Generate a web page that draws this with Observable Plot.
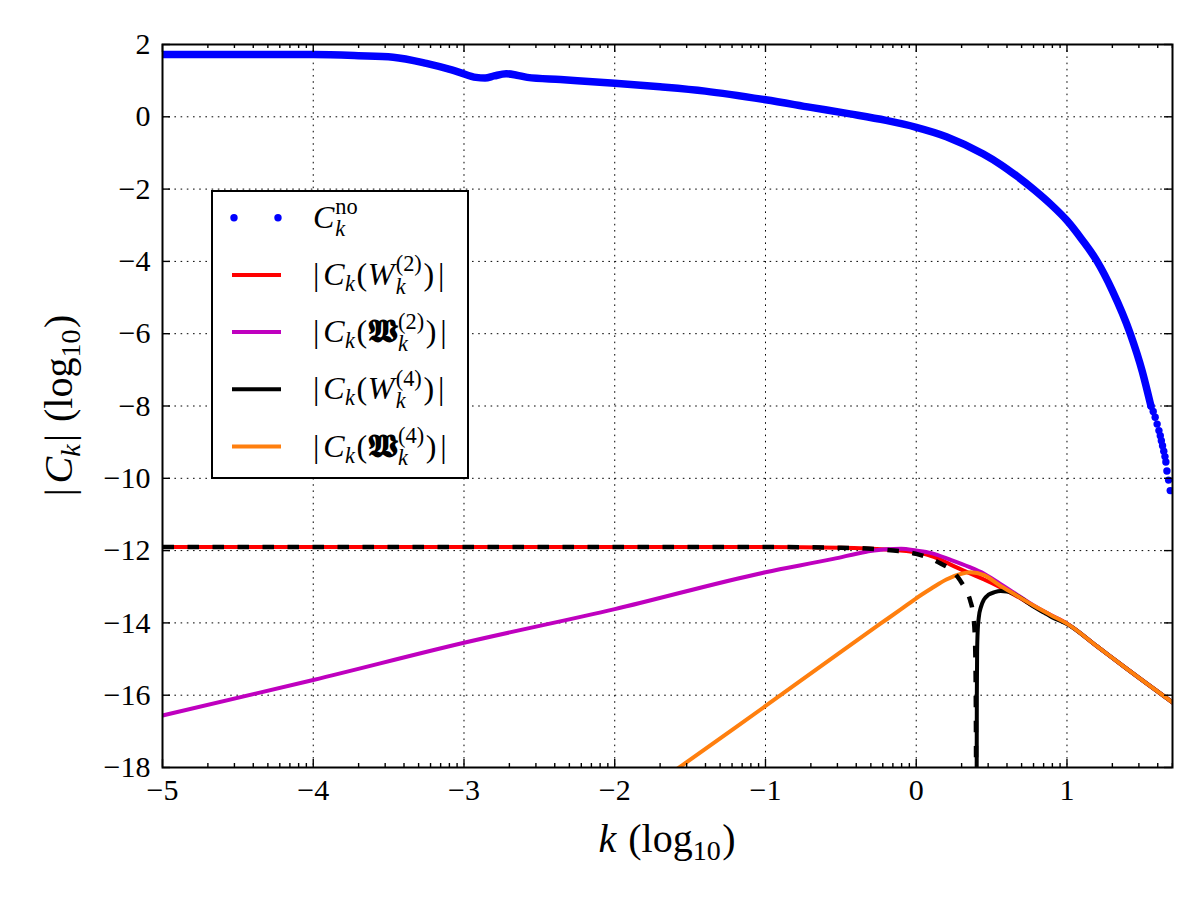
<!DOCTYPE html>
<html><head><meta charset="utf-8">
<script src="https://cdn.jsdelivr.net/npm/d3@7"></script>
<script src="https://cdn.jsdelivr.net/npm/@observablehq/plot@0.6"></script>
<style>
html,body{margin:0;padding:0;background:#fff;}
#chart{position:relative;width:1200px;height:900px;}
</style></head><body><div id="chart"></div>
<script>
// ---------- data ----------
const xTickValues = [-5, -4, -3, -2, -1, 0, 1];
const yTickValues = [-18, -16, -14, -12, -10, -8, -6, -4, -2, 0, 2];
const xGridValues = [-4, -3, -2, -1, 0, 1];
const yGridValues = [-16, -14, -12, -10, -8, -6, -4, -2, 0];
const minorMultipliers = [2, 3, 4, 5, 6, 7, 8, 9];

// C_k^no (dense dotted series, drawn as a thick trace) and its sparse tail
const noK = [-5, -4.5, -4, -3.7, -3.47, -3.25, -3.1, -3.03, -2.92, -2.86, -2.8, -2.72, -2.65, -2.58, -2.36, -2.0, -1.7, -1.4, -1.0, -0.7, -0.44, -0.2, 0, 0.2, 0.445, 0.56, 0.667, 0.777, 0.9, 1.0, 1.1, 1.2, 1.3, 1.42, 1.5, 1.557];
const noC = [1.72, 1.72, 1.72, 1.69, 1.65, 1.48, 1.32, 1.23, 1.09, 1.07, 1.13, 1.19, 1.15, 1.09, 1.03, 0.93, 0.83, 0.71, 0.47, 0.26, 0.08, -0.1, -0.29, -0.55, -1.03, -1.32, -1.64, -2.0, -2.45, -2.87, -3.4, -4.0, -4.8, -6.0, -7.05, -8.0];
const noTailK = [1.557, 1.572, 1.585, 1.598, 1.61, 1.619, 1.626, 1.634, 1.642, 1.65, 1.656, 1.663, 1.674, 1.685];
const noTailC = [-8.0, -8.15, -8.31, -8.5, -8.68, -8.82, -8.96, -9.1, -9.25, -9.4, -9.55, -9.8, -10.05, -10.34];

// |C_k(W_k^(2))|
const w2K = [-5, -1, -0.5, -0.2, 0, 0.1, 0.225, 0.35, 0.45, 0.55, 0.65, 0.778, 0.9, 1.0, 1.2, 1.4, 1.7];
const w2C = [-11.9, -11.9, -11.92, -11.97, -12.05, -12.15, -12.38, -12.62, -12.8, -13.0, -13.22, -13.53, -13.8, -14.02, -14.65, -15.28, -16.2];
// |C_k(Fraktur W_k^(2))|
const fw2K = [-5, -4, -3, -2, -1, -0.55, -0.33, -0.2, -0.1, 0, 0.1, 0.225, 0.35, 0.45, 0.55, 0.65, 0.778, 0.9, 1.0, 1.2, 1.4, 1.7];
const fw2C = [-16.56, -15.58, -14.55, -13.62, -12.6, -12.23, -12.03, -11.96, -11.95, -12.0, -12.07, -12.25, -12.45, -12.64, -12.9, -13.17, -13.52, -13.8, -14.02, -14.65, -15.28, -16.2];
// |C_k(W_k^(4))| : solid branch and dashed branch
const w4K = [0.401, 0.402, 0.404, 0.408, 0.415, 0.43, 0.45, 0.48, 0.52, 0.56, 0.6, 0.667, 0.72, 0.778, 0.85, 0.9, 1.0, 1.2, 1.4, 1.7];
const w4C = [-18, -16, -14.8, -14.2, -13.85, -13.55, -13.35, -13.22, -13.15, -13.12, -13.13, -13.24, -13.38, -13.55, -13.72, -13.84, -14.03, -14.65, -15.28, -16.2];
const w4dK = [-5, -1, -0.5, -0.3, -0.15, 0, 0.159, 0.25, 0.292, 0.33, 0.358, 0.38, 0.39, 0.395, 0.397];
const w4dC = [-11.9, -11.9, -11.92, -11.95, -12.0, -12.09, -12.35, -12.6, -12.83, -13.1, -13.38, -13.85, -14.5, -16, -18];
// |C_k(Fraktur W_k^(4))|
const fw4K = [-1.6, -1.2, -0.9, -0.5, -0.24, -0.1, 0, 0.1, 0.2, 0.3, 0.36, 0.45, 0.55, 0.65, 0.778, 0.9, 1.0, 1.2, 1.4, 1.7];
const fw4C = [-18.08, -16.9, -16.0, -14.8, -14.03, -13.62, -13.32, -13.05, -12.8, -12.64, -12.6, -12.68, -12.95, -13.2, -13.52, -13.8, -14.02, -14.65, -15.28, -16.2];

const colNo = "#0000ff", colW2 = "#ff0000", colFW2 = "#bf00bf", colW4 = "#000000", colFW4 = "#ff7f0e";

// legend / axis label texts (math runs)
const FRAK_W = "\u{1D582}";
const legendEntries = [
  {type: "dot", color: colNo, runs: [{t: "C", it: 1, sp: 0.03}, {stack: [{t: "no"}, {t: "k", it: 1}]}]},
  {type: "line", color: colW2, runs: [{t: "|", sp: 0.12}, {t: "C", it: 1, sp: 0.01}, {t: "k", it: 1, pos: "sub", sp: 0.05}, {t: "(", sp: 0.02}, {t: "W", it: 1, sp: 0.04}, {stack: [{t: "(2)"}, {t: "k", it: 1}], sp: 0.05}, {t: ")", sp: 0.12}, {t: "|"}]},
  {type: "line", color: colFW2, runs: [{t: "|", sp: 0.12}, {t: "C", it: 1, sp: 0.01}, {t: "k", it: 1, pos: "sub", sp: 0.05}, {t: "(", sp: 0.02}, {t: FRAK_W, b: 1, sp: 0.04}, {stack: [{t: "(2)"}, {t: "k", it: 1}], sp: 0.05}, {t: ")", sp: 0.12}, {t: "|"}]},
  {type: "line", color: colW4, runs: [{t: "|", sp: 0.12}, {t: "C", it: 1, sp: 0.01}, {t: "k", it: 1, pos: "sub", sp: 0.05}, {t: "(", sp: 0.02}, {t: "W", it: 1, sp: 0.04}, {stack: [{t: "(4)"}, {t: "k", it: 1}], sp: 0.05}, {t: ")", sp: 0.12}, {t: "|"}]},
  {type: "line", color: colFW4, runs: [{t: "|", sp: 0.12}, {t: "C", it: 1, sp: 0.01}, {t: "k", it: 1, pos: "sub", sp: 0.05}, {t: "(", sp: 0.02}, {t: FRAK_W, b: 1, sp: 0.04}, {stack: [{t: "(4)"}, {t: "k", it: 1}], sp: 0.05}, {t: ")", sp: 0.12}, {t: "|"}]}
];
const xLabelRuns = [{t: "k", it: 1, sp: 0.3}, {t: "(log"}, {t: "10", pos: "sub", sp: 0.04}, {t: ")"}];
const yLabelRuns = [{t: "|", sp: 0.12}, {t: "C", it: 1}, {t: "k", it: 1, pos: "sub", sp: 0.06}, {t: "|", sp: 0.3}, {t: "(log"}, {t: "10", pos: "sub", sp: 0.04}, {t: ")"}];

// ---------- build ----------
const FONT = "Liberation Serif, 'DejaVu Serif', serif";
const zip = (K, C) => K.map((k, i) => ({k, c: C[i]}));
const xMinor = [];
for (let n = -5; n <= 1; n++) for (const m of minorMultipliers) { const v = n + Math.log10(m); if (v <= 1.7) xMinor.push(v); }
const fmt = d => (d < 0 ? "\u2212" : "") + Math.abs(d);

const W = 1200, H = 900, mL = 162, mR = 28, mT = 44, mB = 133;
const pw = W - mL - mR, ph = H - mT - mB;
const majorLen = 8, minorLen = 4;
const grid = {stroke: "black", strokeWidth: 1, strokeDasharray: "1.6,4.6"};
const tk = {stroke: "black", strokeWidth: 1.4};
const ln = {x: "k", y: "c", curve: "monotone-x", clip: true};

const svg = Plot.plot({
  width: W, height: H, marginLeft: mL, marginRight: mR, marginTop: mT, marginBottom: mB,
  x: {domain: [-5, 1.7]},
  y: {domain: [-18, 2]},
  style: {fontFamily: FONT, background: "white", color: "black"},
  marks: [
    Plot.ruleX(xGridValues, {...grid}),
    Plot.ruleY(yGridValues, {...grid}),
    Plot.line(zip(noK, noC), {...ln, stroke: colNo, strokeWidth: 7.5, strokeLinecap: "round", strokeLinejoin: "round"}),
    Plot.dot(zip(noTailK, noTailC), {x: "k", y: "c", r: 3.7, fill: colNo, clip: true}),
    Plot.line(zip(w2K, w2C), {...ln, stroke: colW2, strokeWidth: 4}),
    Plot.line(zip(fw2K, fw2C), {...ln, stroke: colFW2, strokeWidth: 4}),
    Plot.line(zip(w4K, w4C), {...ln, stroke: colW4, strokeWidth: 4}),
    Plot.line(zip(fw4K, fw4C), {...ln, stroke: colFW4, strokeWidth: 4}),
    Plot.line(zip(w4dK, w4dC), {...ln, stroke: colW4, strokeWidth: 4.5, strokeDasharray: "11.5,13.5", strokeLinecap: "butt"}),
    // inward ticks on all four sides
    Plot.ruleX(xTickValues, {...tk, insetTop: ph - majorLen}),
    Plot.ruleX(xTickValues, {...tk, insetBottom: ph - majorLen}),
    Plot.ruleX(xMinor, {...tk, insetTop: ph - minorLen}),
    Plot.ruleX(xMinor, {...tk, insetBottom: ph - minorLen}),
    Plot.ruleY(yTickValues, {...tk, insetRight: pw - majorLen}),
    Plot.ruleY(yTickValues, {...tk, insetLeft: pw - majorLen}),
    Plot.frame({stroke: "black", strokeWidth: 2}),
    Plot.axisX(xTickValues, {anchor: "bottom", tickSize: 0, tickPadding: 11, fontSize: 30, fontFamily: FONT, fontVariant: "normal", tickFormat: fmt, label: null}),
    Plot.axisY(yTickValues, {anchor: "left", tickSize: 0, tickPadding: 12, fontSize: 30, fontFamily: FONT, fontVariant: "normal", tickFormat: fmt, label: null})
  ]
});
document.getElementById("chart").append(svg);

const root = d3.select(svg);
// make sure every axis text uses the serif face
root.selectAll("text").attr("font-family", FONT).style("font-family", FONT).style("font-variant", "normal");

// ---------- math text helper ----------
function mathText(parent, runs, F) {
  const g = parent.append("g").attr("font-family", FONT).style("font-family", FONT).attr("fill", "black").attr("text-anchor", "start");
  let x = 0;
  const shifts = {sup: -0.40, sub: 0.19, sup2: -0.42, sub2: 0.27};
  for (const r of runs) {
    const parts = r.stack ? [{...r.stack[0], pos: "sup2"}, {...r.stack[1], pos: "sub2"}] : [r];
    let w = 0;
    for (const p of parts) {
      const s = p.pos ? 0.7 : 1;
      const t = g.append("text").attr("x", x).attr("y", (shifts[p.pos] || 0) * F)
        .attr("text-anchor", "start")
        .attr("font-size", F * s)
        .attr("font-style", p.it ? "italic" : "normal")
        .attr("font-weight", p.b ? "bold" : "normal")
        .text(p.t);
      w = Math.max(w, t.node().getComputedTextLength());
    }
    x += w + (r.sp || 0) * F;
  }
  return {g, width: x};
}

const sx = svg.scale("x"), sy = svg.scale("y");
const fx0 = sx.apply(-5), fx1 = sx.apply(1.7), fy0 = sy.apply(2), fy1 = sy.apply(-18);

// x label
{
  const m = mathText(root, xLabelRuns, 40);
  m.g.attr("transform", `translate(${(fx0 + fx1) / 2 - m.width / 2},${fy1 + 85})`);
}
// y label
{
  const m = mathText(root, yLabelRuns, 40);
  m.g.attr("transform", `translate(${fx0 - 90},${(fy0 + fy1) / 2 + m.width / 2}) rotate(-90)`);
}

// legend (placed in pixel space inside the frame)
{
  const lx = 212, ly = 191, lw = 256, lh = 287, rowY0 = 26.7, rowStep = 57.2;
  const lg = root.append("g").attr("transform", `translate(${lx},${ly})`);
  lg.append("rect").attr("width", lw).attr("height", lh).attr("fill", "white").attr("stroke", "black").attr("stroke-width", 2);
  legendEntries.forEach((e, i) => {
    const y = rowY0 + i * rowStep;
    if (e.type === "dot") {
      for (const cx of [22, 66]) lg.append("circle").attr("cx", cx).attr("cy", y).attr("r", 3.7).attr("fill", e.color);
    } else {
      lg.append("line").attr("x1", 20).attr("x2", 69).attr("y1", y).attr("y2", y).attr("stroke", e.color).attr("stroke-width", 4);
    }
    const m = mathText(lg, e.runs, 32);
    m.g.attr("transform", `translate(101,${y + 10})`);
  });
}
</script></body></html>
